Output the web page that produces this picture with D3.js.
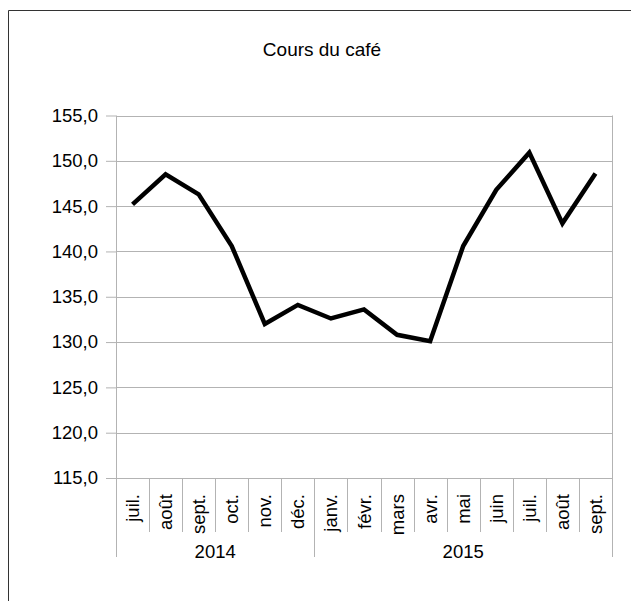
<!DOCTYPE html>
<html>
<head>
<meta charset="utf-8">
<script src="https://cdn.jsdelivr.net/npm/d3@7"></script>
<style>
	body { margin: 0; background: #fff; }
	svg { display: block; font-family: "Liberation Sans", Arial, sans-serif; }
</style>
</head>
<body>
<svg id="chart" width="631" height="601"></svg>
<script>
	// données
	var months = ['juil.', 'août', 'sept.', 'oct.', 'nov.', 'déc.',
		'janv.', 'févr.', 'mars', 'avr.', 'mai', 'juin', 'juil.', 'août', 'sept.'];
	var years = [
		{ label: '2014', start: 0, end: 6 },
		{ label: '2015', start: 6, end: 15 }
	];
	var prices = [145.2, 148.5, 146.3, 140.6, 132.0, 134.1,
		132.6, 133.6, 130.8, 130.1, 140.6, 146.8, 150.9, 143.1, 148.6];
	var yTicks = [115, 120, 125, 130, 135, 140, 145, 150, 155];

	var svg = d3.select('#chart'),
		plotLeft = 116,
		plotRight = 612,
		plotTop = 115.5,
		plotBottom = 478,
		fontSize = 18.5;

	var gridColor = '#b3b3b3',
		fmt = function (v) { return d3.format('.1f')(v).replace('.', ','); };

	// cadre
	svg.append('path')
		.attr('d', 'M8.5,601V10.5H631')
		.attr('fill', 'none')
		.attr('stroke', '#333');

	svg.append('text')
		.attr('x', 322).attr('y', 56)
		.attr('text-anchor', 'middle')
		.attr('font-size', 19)
		.text('Cours du café');

	var x = d3.scaleBand()
		.domain(d3.range(months.length))
		.range([plotLeft, plotRight]);

	var y = d3.scaleLinear()
		.domain([115, 155])
		.range([plotBottom, plotTop]);

	// grille horizontale + ticks gauche
	var yAxis = svg.append('g')
		.attr('transform', 'translate(' + plotLeft + ',0)')
		.call(d3.axisLeft(y).tickValues(yTicks).tickFormat(fmt)
			.tickSize(10).tickPadding(8));
	yAxis.select('.domain').remove();
	yAxis.selectAll('.tick line').attr('stroke', gridColor);
	yAxis.selectAll('.tick text').attr('font-size', fontSize).attr('fill', '#000')
		.attr('font-family', '"Liberation Sans", Arial, sans-serif');

	svg.append('g').selectAll('line')
		.data(yTicks)
		.enter().append('line')
		.attr('x1', plotLeft).attr('x2', plotRight)
		.attr('y1', function (d) { return Math.round(y(d)) + 0.5; })
		.attr('y2', function (d) { return Math.round(y(d)) + 0.5; })
		.attr('stroke', gridColor);

	// bords verticaux du tracé
	svg.append('g').selectAll('line')
		.data([plotLeft, plotRight])
		.enter().append('line')
		.attr('x1', function (d) { return d + 0.5; })
		.attr('x2', function (d) { return d + 0.5; })
		.attr('y1', plotTop).attr('y2', plotBottom)
		.attr('stroke', gridColor);

	// séparateurs de mois
	svg.append('g').selectAll('line')
		.data(d3.range(months.length + 1))
		.enter().append('line')
		.attr('x1', function (i) { return Math.round(plotLeft + i * x.step()) + 0.5; })
		.attr('x2', function (i) { return Math.round(plotLeft + i * x.step()) + 0.5; })
		.attr('y1', plotBottom)
		.attr('y2', function (i) {
			var isYear = years.some(function (yr) { return yr.start === i || yr.end === i; });
			return isYear ? 557 : 532;
		})
		.attr('stroke', gridColor);

	svg.append('g').selectAll('text')
		.data(months)
		.enter().append('text')
		.attr('transform', function (d, i) {
			return 'translate(' + (x(i) + x.bandwidth() / 2 + 6.5) + ',494) rotate(-90)';
		})
		.attr('text-anchor', 'end')
		.attr('font-size', fontSize)
		.text(function (d) { return d; });

	svg.append('g').selectAll('text')
		.data(years)
		.enter().append('text')
		.attr('x', function (d) { return (plotLeft + d.start * x.step() + plotLeft + d.end * x.step()) / 2; })
		.attr('y', 558)
		.attr('text-anchor', 'middle')
		.attr('font-size', fontSize)
		.text(function (d) { return d.label; });

	var line = d3.line()
		.x(function (d, i) { return x(i) + x.bandwidth() / 2; })
		.y(function (d) { return y(d); });

	svg.append('path')
		.datum(prices)
		.attr('d', line)
		.attr('fill', 'none')
		.attr('stroke', '#000')
		.attr('stroke-width', 4.5);
</script>
</body>
</html>
